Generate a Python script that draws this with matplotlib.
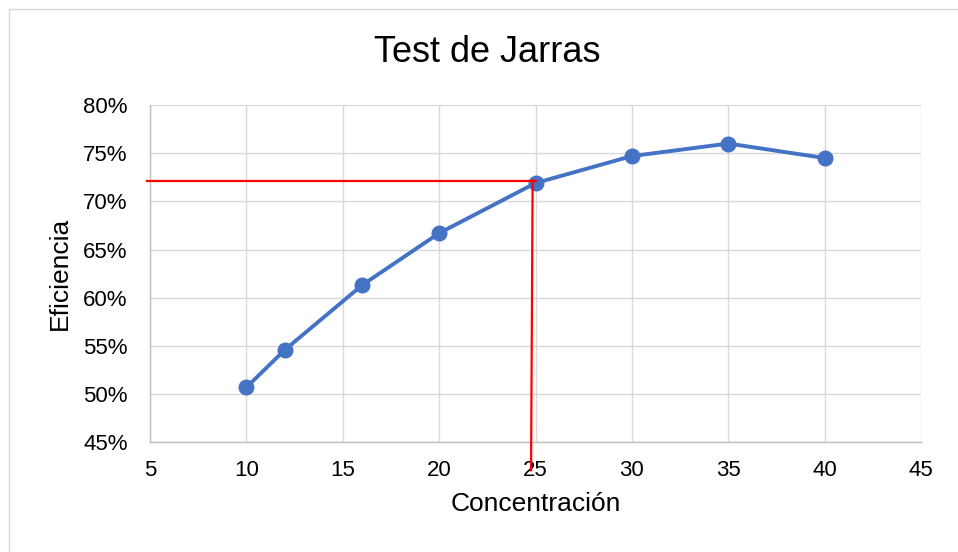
import matplotlib
matplotlib.use("Agg")
import matplotlib.pyplot as plt
from matplotlib.patches import Rectangle
from matplotlib.ticker import PercentFormatter

plt.rcParams['font.family'] = ['Liberation Sans', 'DejaVu Sans']

# data
concentracion = [10, 12, 16, 20, 25, 30, 35, 40]
eficiencia = [0.507, 0.546, 0.613, 0.667, 0.719, 0.747, 0.760, 0.745]

# red guide lines (target efficiency -> dose)
ref_y = 0.7215
ref_x = 24.85
x_ticks = [5, 10, 15, 20, 25, 30, 35, 40, 45]
y_ticks = [0.45, 0.50, 0.55, 0.60, 0.65, 0.70, 0.75, 0.80]

fig = plt.figure(figsize=(9.58, 5.52), dpi=100)
ax = fig.add_axes([150/958, 1 - 442.3/552, (921 - 150)/958, (442.3 - 105)/552])

# outer chart border (cropped on right/bottom)
fig.patches.append(Rectangle((8.5/958, -0.2), 1.5, 1.2 - 8.5/552,
                             transform=fig.transFigure, fill=False,
                             edgecolor='#D9D9D9', lw=1.0, zorder=0))

ax.plot(concentracion, eficiencia, color='#4472C4', lw=2.8, marker='o',
        markersize=10.5, zorder=3, clip_on=False)

ax.plot([4.85, 25.0], [ref_y, ref_y], color='#FF0000', lw=1.6, zorder=4, clip_on=False)
ax.plot([ref_x, ref_x - 0.08], [ref_y, 0.421], color='#FF0000', lw=1.6, zorder=4, clip_on=False)

ax.set_xlim(5, 45)
ax.set_ylim(0.45, 0.80)
ax.set_xticks(x_ticks)
ax.set_yticks(y_ticks)
ax.yaxis.set_major_formatter(PercentFormatter(1.0, decimals=0))
ax.grid(True, color='#D9D9D9', lw=1.0)
ax.set_axisbelow(True)
ax.tick_params(length=0, labelsize=16)
ax.tick_params(axis='y', pad=16)
ax.tick_params(axis='x', pad=13)
for s in ['top', 'right']:
    ax.spines[s].set_visible(False)
for s in ['left', 'bottom']:
    ax.spines[s].set_color('#BFBFBF')
    ax.spines[s].set_linewidth(1.0)

ax.set_xlabel('Concentración', fontsize=19, labelpad=8)
ax.set_ylabel('Eficiencia', fontsize=19, labelpad=8)
fig.text(487/958, 1 - 52/552, 'Test de Jarras', fontsize=26, ha='center', va='center')

fig.savefig('out.png', dpi=100, facecolor='white')
